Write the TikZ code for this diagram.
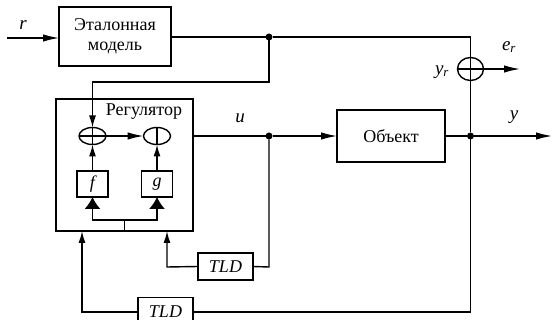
\documentclass[tikz,border=0pt]{standalone}
\usepackage{fontspec}
\setmainfont{Liberation Serif}
\usetikzlibrary{shapes.geometric,arrows.meta}
\begin{document}
\begin{tikzpicture}[x=1pt,y=-1pt,
  line width=1.4pt,
  every node/.style={inner sep=0pt,outer sep=0pt},
  blk/.style={draw,rectangle,font=\fontsize{18}{20}\selectfont,align=center},
  iblk/.style={blk,font=\fontsize{18}{20}\selectfont\itshape},
  sumc/.style={draw,ellipse},
  lbl/.style={font=\fontsize{19}{21}\selectfont\itshape},
  arr/.style={-{Latex[length=16pt,width=7.5pt]}},
  sarr/.style={-{Latex[length=12pt,width=7pt]}},
  bigarr/.style={-{Latex[length=12pt,width=16pt]}},
  dot/.style={circle,fill,minimum size=7pt}]
\useasboundingbox (0,0) rectangle (552,320);
% blocks
\node[blk,minimum width=112pt,minimum height=59pt] (model) at (115,36.5) {Эталонная\\модель};
\node[draw,rectangle,minimum width=137pt,minimum height=132pt] (reg) at (124.5,165) {};
\node[font=\fontsize{18}{20}\selectfont] (reglbl) at (144,112) {Регулятор};
\node[sumc,minimum width=27pt,minimum height=17pt] (s1) at (92.5,136) {};
\node[sumc,minimum width=27pt,minimum height=17pt] (s2) at (157,136) {};
\node[iblk,minimum width=31pt,minimum height=26pt] (f) at (92.5,184) {f};
\node[iblk,minimum width=31pt,minimum height=26pt] (g) at (157,184) {g};
\node[blk,minimum width=108pt,minimum height=52pt] (obj) at (391,136) {Объект};
\node[sumc,minimum width=26pt,minimum height=23pt] (ser) at (470.5,69) {};
\node[iblk,minimum width=55pt,minimum height=27pt] (tld1) at (225.5,266.5) {TLD};
\node[iblk,minimum width=55pt,minimum height=28pt] (tld2) at (165.5,311.5) {TLD};
% signs inside summators
\draw[line width=1.1pt] (s1.north) -- (s1.south) (s1.west) -- (s1.east);
\draw[line width=1.1pt] (s2.north) -- (s2.south);
\draw[line width=1.1pt] (ser.north) -- (ser.south) (ser.west) -- (ser.east);
% junctions
\coordinate (rin) at (7,38);
\node[dot] (j1) at (269,37) {};
\node[dot] (j2) at (269,136) {};
\node[dot] (j3) at (470.5,136) {};
\coordinate (yout) at (552,136);
\coordinate (erout) at (520,69);
\coordinate (c1) at (269,82);
\coordinate (c2) at (92.5,82);
\coordinate (br) at (124.5,231);
\coordinate (brm) at (124.5,220);
\coordinate (brl) at (92.5,220);
\coordinate (brr) at (157,220);
\coordinate (d1) at (269,267);
\coordinate (d2) at (167,267);
\coordinate (d2t) at (167,231);
\coordinate (e1) at (470.5,312);
\coordinate (e2) at (82,312);
\coordinate (e2t) at (82,231);
% connectors
\draw[arr] (rin) -- (model.west |- rin);
\draw (model.east |- j1) -- (j1) -- (j1 -| ser) -- (ser.north);
\draw[sarr] (j1) -- (c1) -- (c2) -- (s1.north);
\draw[arr] (s1.east) -- (s2.west);
\draw[sarr] (f.north) -- (s1.south);
\draw[sarr] (g.north) -- (s2.south);
\draw (br) -- (brm);
\draw[bigarr] (brm) -- (brl) -- (f.south);
\draw[bigarr] (brm) -- (brr) -- (g.south);
\draw (reg.east |- j2) -- (j2);
\draw[arr] (j2) -- (obj.west);
\draw (obj.east) -- (j3);
\draw[arr] (j3) -- (yout);
\draw (j3) -- (ser.south);
\draw[arr] (ser.east) -- (erout);
\draw (j2) -- (d1) -- (tld1.east);
\draw[sarr] (tld1.west) -- (d2) -- (d2t);
\draw (j3) -- (e1) -- (tld2.east |- e1);
\draw[sarr] (tld2.west |- e2) -- (e2) -- (e2t);
% labels
\node[lbl] (lr) at (23,25) {r};
\node[lbl] (lu) at (240,118) {u};
\node[lbl] (ly) at (514,117) {y};
\node[lbl] (lyr) at (442,72) {y\textsubscript{\fontsize{13}{15}\selectfont r}};
\node[lbl] (ler) at (509,47) {e\textsubscript{\fontsize{13}{15}\selectfont r}};
\end{tikzpicture}
\end{document}
